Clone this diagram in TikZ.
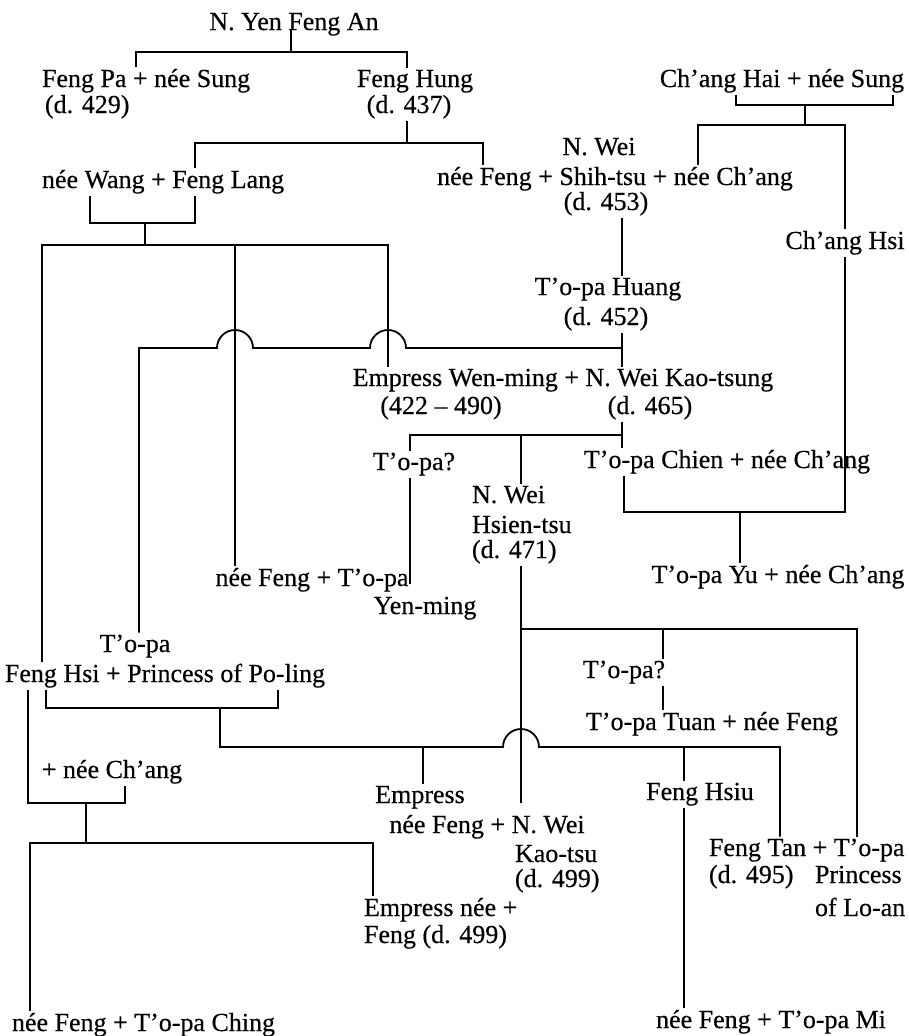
\documentclass[tikz,border=0pt]{standalone}
\usepackage{fontspec}
\setmainfont{Liberation Serif}[Ligatures=TeX, UprightFeatures={FakeBold=0.4}]

\begin{document}
\begin{tikzpicture}[
    x=1pt, y=-1pt,
    line cap=butt, line join=miter,
    person/.style={inner sep=0pt, outer sep=2pt, anchor=base,
        font=\fontsize{26}{28}\selectfont},
    personl/.style={person, anchor=base west},
    tie/.style={line width=1.8pt},
]
\useasboundingbox (0,0) rectangle (908,1036);

% --- People (baselines in px from the top) ---
\node[person]  (an)      at (294,30)   {N. Yen Feng An};
\node[personl] (pa)      at (40,87)    {Feng Pa + née Sung};
\node[personl] (paD)     at (43,113)   {(d. 429)};
\node[person]  (hung)    at (415,87)   {Feng Hung};
\node[person]  (hungD)   at (409,113)  {(d. 437)};
\node[person]  (hai)     at (782,87)   {Ch’ang Hai + née Sung};
\node[personl] (lang)    at (40,188)   {née Wang + Feng Lang};
\node[person]  (shihA)   at (599,155)  {N. Wei};
\node[person]  (shih)    at (615,185)  {née Feng + Shih-tsu + née Ch’ang};
\node[person]  (shihD)   at (606,210)  {(d. 453)};
\node[person]  (hsi)     at (845,249)  {Ch’ang Hsi};
\node[person]  (huang)   at (608,295)  {T’o-pa Huang};
\node[person]  (huangD)  at (606,325)  {(d. 452)};
\node[person]  (kaotsung) at (563,386) {Empress Wen-ming + N. Wei Kao-tsung};
\node[person]  (wenD)    at (441,414)  {(422 – 490)};
\node[person]  (kaotsungD) at (650,414) {(d. 465)};
\node[person]  (topaQ)   at (414,470)  {T’o-pa?};
\node[person]  (chien)   at (727,468)  {T’o-pa Chien + née Ch’ang};
\node[personl] (hsienA)  at (470,503)  {N. Wei};
\node[personl] (hsien)   at (470,533)  {Hsien-tsu};
\node[personl] (hsienD)  at (470,558)  {(d. 471)};
\node[person]  (yenming) at (312,586)  {née Feng + T’o-pa};
\node[person]  (yenmingB) at (425,614) {Yen-ming};
\node[person]  (yu)      at (778,583)  {T’o-pa Yu + née Ch’ang};
\node[person]  (fenghsiA) at (135,652) {T’o-pa};
\node[person]  (fenghsi) at (165,682)  {Feng Hsi + Princess of Po-ling};
\node[person]  (topaQb)  at (624,678)  {T’o-pa?};
\node[person]  (tuan)    at (712,730)  {T’o-pa Tuan + née Feng};
\node[person]  (changW)  at (112,778)  {+ née Ch’ang};
\node[person]  (kaotsuA) at (420,803)  {Empress};
\node[person]  (kaotsu)  at (487,833)  {née Feng + N. Wei};
\node[personl] (kaotsuB) at (513,862)  {Kao-tsu};
\node[personl] (kaotsuD) at (513,887)  {(d. 499)};
\node[person]  (hsiu)    at (700,800)  {Feng Hsiu};
\node[personl] (tan)     at (707,856)  {Feng Tan + T’o-pa};
\node[personl] (tanD)    at (707,883)  {(d. 495)};
\node[personl] (loanA)   at (813,883)  {Princess};
\node[personl] (loan)    at (813,916)  {of Lo-an};
\node[personl] (empB)    at (362,916)  {Empress née +};
\node[personl] (empBD)   at (362,943)  {Feng (d. 499)};
\node[personl] (ching)   at (10,1031)  {née Feng + T’o-pa Ching};
\node[person]  (mi)      at (771,1028) {née Feng + T’o-pa Mi};

% --- Bar and joint points ---
\coordinate (anJ) at (291,52);
\coordinate (anL) at (136,52);
\coordinate (anR) at (407,52);
\coordinate (hungJ) at (407,143);
\coordinate (langT) at (195,143);
\coordinate (shihT) at (483,143);
\coordinate (haiL) at (736,105);
\coordinate (haiR) at (893,105);
\coordinate (haiJ) at (805,105);
\coordinate (haiK) at (805,125);
\coordinate (shihC) at (698,125);
\coordinate (hsiT) at (845,125);
\coordinate (langL) at (90,223);
\coordinate (langR) at (195,223);
\coordinate (langJ) at (145,223);
\coordinate (langK) at (145,245);
\coordinate (fenghsiT) at (42,245);
\coordinate (yenmingT) at (235,245);
\coordinate (wenT) at (388,245);
\coordinate (huangL) at (139,348);
\coordinate (huangR) at (622,348);
\coordinate (humpA) at (235,348);
\coordinate (humpB) at (388,348);
\coordinate (kaoJ) at (622,435);
\coordinate (topaT) at (410,435);
\coordinate (hsienT) at (521,435);
\coordinate (chienL) at (624,512);
\coordinate (chienR) at (845,512);
\coordinate (yuT) at (740,512);
\coordinate (hsienJ) at (521,629);
\coordinate (tanR) at (857,629);
\coordinate (tuanT) at (663,629);
\coordinate (poL) at (46,708);
\coordinate (poR) at (278,708);
\coordinate (poJ) at (220,708);
\coordinate (poK) at (220,747);
\coordinate (humpC) at (521,747);
\coordinate (tanL) at (780,747);
\coordinate (kaotsuT) at (423,747);
\coordinate (hsiuT) at (684,747);
\coordinate (changL) at (28,803);
\coordinate (changR) at (125,803);
\coordinate (changJ) at (86,803);
\coordinate (changK) at (86,843);
\coordinate (chingT) at (30,843);
\coordinate (empT) at (373,843);

% --- Feng An and his sons ---
\draw[tie] (anJ |- an.base) -- (anJ);
\draw[tie] (anL |- pa.north) -- (anL) -- (anR) -- (anR |- hung.north);
\draw[tie] (hungJ |- hungD.south) -- (hungJ);
\draw[tie] (langT |- lang.north) -- (langT) -- (shihT) -- (shihT |- shih.north);

% --- Ch'ang Hai line ---
\draw[tie] (haiL |- hai.south) -- (haiL) -- (haiR) -- (haiR |- hai.south);
\draw[tie] (haiJ) -- (haiK);
\draw[tie] (shihC |- shih.north) -- (shihC) -- (hsiT) -- (hsiT |- hsi.north);

% --- Children of Feng Lang ---
\draw[tie] (langL |- lang.south) -- (langL) -- (langR) -- (langR |- lang.south);
\draw[tie] (langJ) -- (langK);
\draw[tie] (fenghsiT |- fenghsi.north) -- (fenghsiT) -- (wenT) -- (wenT |- kaotsung.north);
\draw[tie] (yenmingT) -- (yenmingT |- yenming.north);

% --- Shih-tsu to Kao-tsung ---
\draw[tie] (huangR |- shihD.south) -- (huangR |- huang.north);
\draw[tie] (huangL |- fenghsiA.north) -- (huangL)
    -- ([xshift=-18pt]humpA) arc[start angle=180, end angle=0, radius=18pt]
    -- ([xshift=-18pt]humpB) arc[start angle=180, end angle=0, radius=18pt]
    -- (huangR);
\draw[tie] (huangR |- huangD.south) -- (huangR |- kaotsung.north);

% --- Children of Kao-tsung ---
\draw[tie] (kaoJ |- kaotsungD.south) -- (kaoJ |- chien.north);
\draw[tie] (topaT |- topaQ.north) -- (topaT) -- (kaoJ);
\draw[tie] (hsienT) -- (hsienT |- hsienA.north);
\draw[tie] (topaT |- topaQ.south) -- (topaT |- yenming.mid);
\draw[tie] (chienL |- chien.south) -- (chienL) -- (chienR) -- (chienR |- hsi.south);
\draw[tie] (yuT) -- (yuT |- yu.north);

% --- Children of Hsien-tsu ---
\draw[tie] (hsienJ |- hsienD.south) -- (hsienJ |- kaotsuA.base);
\draw[tie] (hsienJ) -- (tanR) -- (tanR |- tan.north);
\draw[tie] (tuanT) -- (tuanT |- topaQb.north);
\draw[tie] (tuanT |- topaQb.south) -- (tuanT |- tuan.north);

% --- Children of Feng Hsi and the Princess ---
\draw[tie] (poL |- fenghsi.south) -- (poL) -- (poR) -- (poR |- fenghsi.south);
\draw[tie] (poJ) -- (poK)
    -- ([xshift=-18pt]humpC) arc[start angle=180, end angle=0, radius=18pt]
    -- (tanL) -- (tanL |- tan.north);
\draw[tie] (kaotsuT) -- (kaotsuT |- kaotsuA.north);
\draw[tie] (hsiuT) -- (hsiuT |- hsiu.north);
\draw[tie] (hsiuT |- hsiu.south) -- (hsiuT |- mi.north);

% --- Feng Hsi + née Ch'ang ---
\draw[tie] (changL |- fenghsi.south) -- (changL) -- (changR) -- (changR |- changW.south);
\draw[tie] (changJ) -- (changK);
\draw[tie] (chingT |- ching.north) -- (chingT) -- (empT) -- (empT |- empB.north);

\end{tikzpicture}
\end{document}
